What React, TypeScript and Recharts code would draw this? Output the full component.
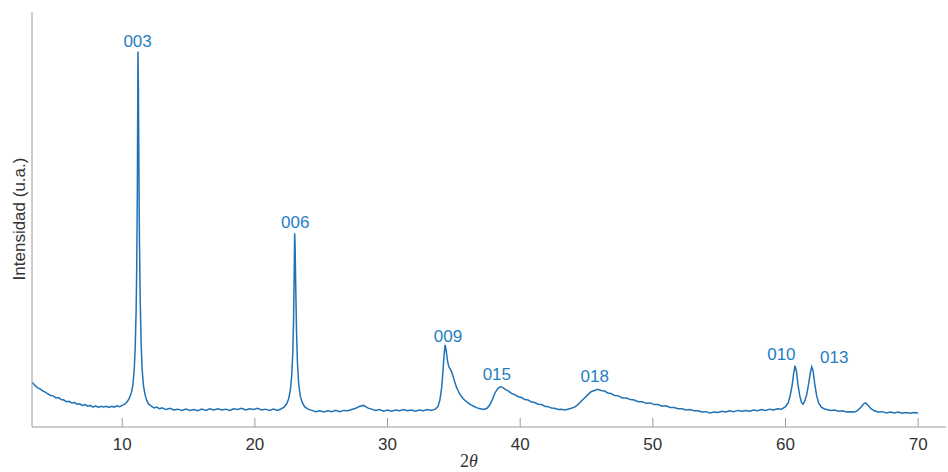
import { LineChart, Line, XAxis, YAxis, ReferenceDot, Label } from 'recharts'

const twoTheta = [
  3.2, 3.4, 3.6, 3.8, 4.0, 4.2, 4.4, 4.6, 4.8, 5.0, 5.2, 5.4, 5.6, 5.8, 6.0, 6.2, 6.4, 6.6, 6.8, 7.0,
  7.2, 7.4, 7.6, 7.8, 8.0, 8.2, 8.4, 8.6, 8.8, 9.0, 9.2, 9.4, 9.6, 9.8, 10.0, 10.2, 10.4, 10.55, 10.7, 10.8,
  10.9, 10.98, 11.05, 11.1, 11.14, 11.17, 11.19, 11.22, 11.26, 11.3, 11.36, 11.43, 11.5, 11.6, 11.72, 11.85, 12.0, 12.2, 12.4, 12.6,
  12.8, 13.0, 13.3, 13.6, 13.9, 14.2, 14.5, 14.8, 15.1, 15.4, 15.7, 16.0, 16.3, 16.6, 16.9, 17.2, 17.5, 17.8, 18.1, 18.4,
  18.7, 19.0, 19.3, 19.6, 19.9, 20.2, 20.5, 20.8, 21.1, 21.4, 21.7, 22.0, 22.2, 22.4, 22.55, 22.68, 22.78, 22.86, 22.92, 22.97,
  23.0, 23.03, 23.08, 23.14, 23.21, 23.3, 23.42, 23.56, 23.75, 24.0, 24.3, 24.6, 24.9, 25.2, 25.5, 25.8, 26.1, 26.4, 26.7, 27.0,
  27.3, 27.6, 27.9, 28.2, 28.5, 28.8, 29.1, 29.4, 29.7, 30.0, 30.3, 30.6, 30.9, 31.2, 31.5, 31.8, 32.1, 32.4, 32.7, 33.0,
  33.3, 33.6, 33.8, 33.95, 34.08, 34.18, 34.27, 34.34, 34.42, 34.52, 34.62, 34.72, 34.82, 34.92, 35.05, 35.2, 35.4, 35.6, 35.8, 36.0,
  36.25, 36.5, 36.75, 37.0, 37.25, 37.5, 37.7, 37.9, 38.1, 38.3, 38.5, 38.7, 38.9, 39.1, 39.35, 39.6, 39.85, 40.1, 40.35, 40.6,
  40.85, 41.1, 41.35, 41.6, 41.85, 42.1, 42.35, 42.6, 42.85, 43.1, 43.35, 43.6, 43.85, 44.1, 44.35, 44.6, 44.85, 45.1, 45.35, 45.6,
  45.85, 46.1, 46.35, 46.6, 46.85, 47.1, 47.4, 47.7, 48.0, 48.3, 48.6, 48.9, 49.2, 49.5, 49.8, 50.1, 50.4, 50.7, 51.0, 51.3,
  51.6, 51.9, 52.2, 52.5, 52.8, 53.1, 53.4, 53.7, 54.0, 54.3, 54.6, 54.9, 55.2, 55.5, 55.8, 56.1, 56.4, 56.7, 57.0, 57.3,
  57.6, 57.9, 58.2, 58.5, 58.8, 59.1, 59.4, 59.7, 60.0, 60.2, 60.35, 60.5, 60.62, 60.72, 60.82, 60.95, 61.08, 61.2, 61.32, 61.45,
  61.6, 61.75, 61.88, 61.98, 62.08, 62.2, 62.35, 62.5, 62.7, 62.9, 63.1, 63.4, 63.7, 64.0, 64.3, 64.6, 64.9, 65.2, 65.45, 65.7,
  65.9, 66.05, 66.25, 66.45, 66.7, 67.0, 67.3, 67.6, 67.9, 68.2, 68.5, 68.8, 69.1, 69.4, 69.7, 70.0,
]

const intensity = [
  10.8, 10.1, 9.5, 9.2, 8.7, 8.4, 8.0, 7.6, 7.5, 7.0, 7.1, 6.6, 6.5, 6.1, 6.2, 5.8, 5.9, 5.5, 5.6, 5.2,
  5.4, 5.0, 5.2, 4.8, 5.1, 4.7, 5.0, 4.8, 5.0, 4.7, 5.0, 4.8, 5.1, 4.9, 5.2, 5.5, 6.2, 7.0, 8.4, 10,
  13.5, 19, 28, 40, 56, 78, 90.5, 82, 62, 45, 30, 20, 14, 10, 7.8, 6.4, 5.5, 5.0, 4.6, 4.8,
  4.4, 4.6, 4.2, 4.5, 4.1, 4.3, 4.0, 4.3, 4.0, 4.2, 3.9, 4.3, 4.0, 4.4, 4.1, 4.4, 4.1, 4.3, 4.0, 4.4,
  4.2, 4.5, 4.1, 4.4, 4.2, 4.5, 4.1, 4.3, 4.0, 4.3, 4.0, 4.4, 4.8, 5.6, 6.8, 9, 12.5, 18, 26, 38,
  46.7, 44, 34, 23, 15.5, 10.5, 7.5, 6.0, 4.9, 4.3, 4.0, 3.7, 3.9, 3.6, 3.9, 3.7, 4.0, 3.7, 4.0, 3.9,
  4.2, 4.5, 5.0, 5.2, 4.6, 4.3, 4.0, 4.2, 3.8, 4.1, 3.8, 4.1, 3.9, 4.2, 3.9, 4.1, 3.8, 4.1, 3.9, 4.2,
  4.0, 4.3, 4.9, 6.5, 9.5, 13.5, 17.5, 19.8, 18.5, 16, 14.5, 14.0, 13.4, 12.5, 11.0, 9.6, 8.2, 7.2, 6.5, 6.0,
  5.4, 5.0, 4.6, 4.4, 4.2, 4.5, 5.3, 6.6, 8.2, 9.2, 9.7, 9.5, 9.0, 8.7, 8.1, 7.8, 7.3, 7.1, 6.6, 6.5,
  6.0, 5.9, 5.5, 5.4, 5.0, 4.9, 4.6, 4.5, 4.2, 4.3, 4.1, 4.3, 4.5, 4.8, 5.4, 6.2, 7.0, 7.8, 8.5, 8.8,
  9.1, 8.8, 8.7, 8.2, 8.1, 7.6, 7.5, 7.0, 7.0, 6.6, 6.5, 6.1, 6.1, 5.7, 5.8, 5.4, 5.4, 5.0, 5.1, 4.7,
  4.7, 4.4, 4.4, 4.1, 4.2, 3.9, 3.9, 3.6, 3.7, 3.4, 3.6, 3.5, 3.8, 3.6, 3.9, 3.7, 4.0, 3.8, 4.0, 3.8,
  4.1, 3.9, 4.2, 4.0, 4.3, 4.1, 4.4, 4.3, 4.9, 5.8, 7.5, 10, 13, 14.8, 13.5, 10, 7.5, 6.0, 5.5, 6.2,
  7.8, 10.5, 13.2, 14.5, 13.5, 10.5, 7.5, 5.8, 4.8, 4.4, 4.2, 4.0, 4.1, 3.8, 3.9, 3.6, 3.7, 3.6, 4.0, 4.8,
  5.6, 5.8, 5.1, 4.4, 3.9, 3.6, 3.7, 3.4, 3.6, 3.4, 3.6, 3.3, 3.5, 3.3, 3.5, 3.4,
]

// peak annotations: label text, 2θ and intensity where the label sits
const peakNames = ['003', '006', '009', '015', '018', '010', '013']
const peakLabelTheta = [11.16, 23.04, 34.56, 38.24, 45.62, 59.69, 63.68]
const peakLabelIntensity = [91.6, 48, 20.5, 11.3, 10.8, 16.1, 15.4]

const xTicks = [10, 20, 30, 40, 50, 60, 70]

const data = twoTheta.map((t, i) => ({ twoTheta: t, intensity: intensity[i] }))

const FONT = '"Liberation Sans", Arial, Helvetica, sans-serif'
const LINE_COLOR = '#1f72b6'
const LABEL_COLOR = '#1f7ec4'
const AXIS_COLOR = '#9c9c9c'
const TEXT_COLOR = '#333333'

function XTick({ x, y, payload }: any) {
  return (
    <g>
      <line x1={x} y1={y} x2={x} y2={y - 9} stroke={AXIS_COLOR} strokeWidth={1} />
      <text x={x} y={y + 23} textAnchor="middle" fontFamily={FONT} fontSize={17} fill={TEXT_COLOR}>
        {payload.value}
      </text>
    </g>
  )
}

export default function App() {
  return (
    <div style={{ position: 'absolute', left: 0, top: 0, width: 948, height: 472, background: '#fff' }}>
      <LineChart width={948} height={472} data={data} margin={{ top: 12, right: 2, left: 0, bottom: 0 }}>
        <XAxis
          dataKey="twoTheta"
          type="number"
          domain={[3.2, 72.1]}
          ticks={xTicks}
          interval={0}
          allowDataOverflow
          height={45}
          tickSize={0}
          tickMargin={0}
          tickLine={false}
          axisLine={{ stroke: AXIS_COLOR, strokeWidth: 1 }}
          tick={<XTick />}
        >
          <Label
            content={() => (
              <text x={469} y={467} textAnchor="middle" fontFamily='"Liberation Serif", serif' fontSize={18} fill={TEXT_COLOR}>
                2<tspan fontStyle="italic">θ</tspan>
              </text>
            )}
          />
        </XAxis>
        <YAxis
          type="number"
          domain={[0, 100]}
          width={32}
          tick={false}
          tickLine={false}
          axisLine={{ stroke: AXIS_COLOR, strokeWidth: 1 }}
        >
          <Label
            content={() => (
              <text
                x={25}
                y={219}
                transform="rotate(-90 25 219)"
                textAnchor="middle"
                fontFamily={FONT}
                fontSize={17}
                fill={TEXT_COLOR}
              >
                Intensidad (u.a.)
              </text>
            )}
          />
        </YAxis>
        <Line
          type="linear"
          dataKey="intensity"
          stroke={LINE_COLOR}
          strokeWidth={1.5}
          dot={false}
          isAnimationActive={false}
        />
        {peakNames.map((name, i) => (
          <ReferenceDot
            key={name}
            x={peakLabelTheta[i]}
            y={peakLabelIntensity[i]}
            r={0}
            ifOverflow="visible"
            shape={(p: any) => (
              <text x={p.cx} y={p.cy} textAnchor="middle" fontFamily={FONT} fontSize={17} fill={LABEL_COLOR}>
                {name}
              </text>
            )}
          />
        ))}
      </LineChart>
    </div>
  )
}
